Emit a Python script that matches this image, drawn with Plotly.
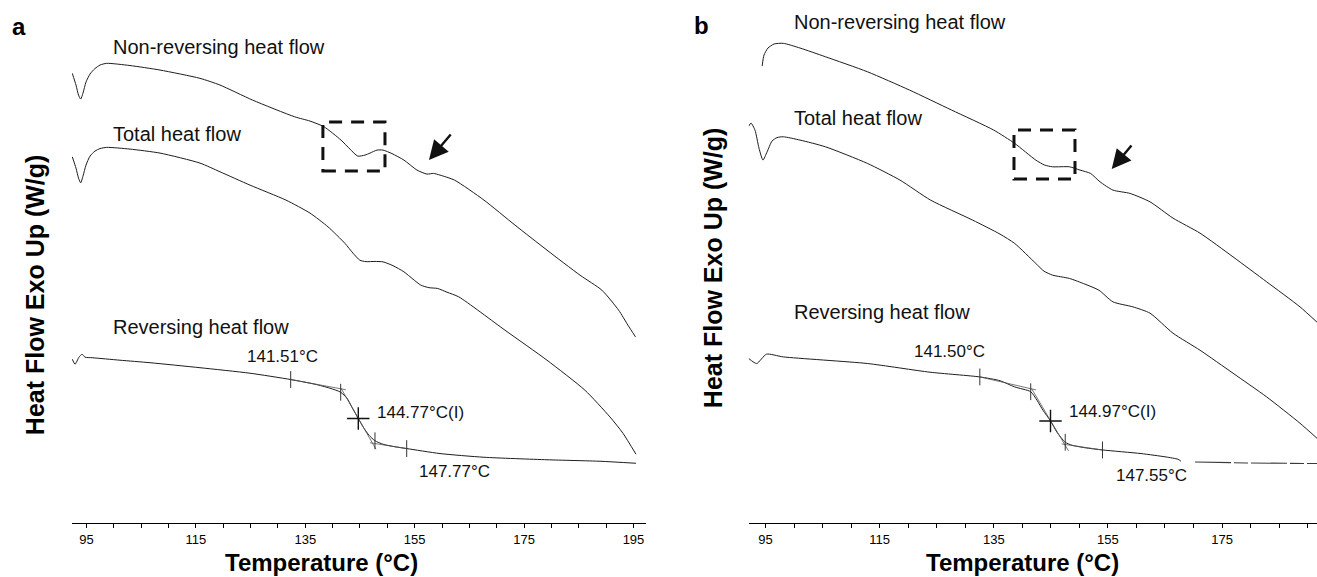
import plotly.graph_objects as go

# ---------------- Panel a data (Temperature °C, heat flow, offset W/g) ----------------
a_nonrev_T = [92.40, 93.08, 93.54, 93.94, 94.36, 94.91, 95.64, 96.55, 97.47, 98.69, 102.95, 108.44,
              115.75, 119.41, 125.35, 133.04, 135.86, 138.42, 141.53, 143.17, 144.58, 145.91, 146.83,
              148.11, 149.21, 150.85, 153.04, 155.42, 157.25, 158.44, 159.63, 162.28, 167.67, 173.34,
              179.19, 185.22, 189.22, 192.29, 193.99, 195.37]
a_nonrev_Q = [4.494, 4.377, 4.277, 4.237, 4.297, 4.407, 4.487, 4.542, 4.577, 4.594, 4.572, 4.527,
              4.444, 4.377, 4.227, 4.060, 4.017, 3.960, 3.827, 3.737, 3.667, 3.677, 3.697,
              3.727, 3.727, 3.692, 3.627, 3.527, 3.487, 3.494, 3.477, 3.427, 3.227, 2.977,
              2.727, 2.477, 2.327, 2.127, 1.977, 1.860]

a_total_T = [92.40, 93.08, 93.54, 93.94, 94.36, 94.91, 95.64, 96.55, 97.47, 98.69, 102.95, 108.44,
             115.75, 119.41, 124.89, 131.47, 135.86, 139.15, 142.26, 143.72, 144.96, 146.10, 147.74,
             149.21, 151.03, 153.04, 154.69, 156.13, 157.61, 159.20, 160.90, 163.06, 171.51, 179.19,
             186.13, 190.70, 193.08, 195.46]
a_total_Q = [3.660, 3.547, 3.447, 3.400, 3.467, 3.577, 3.667, 3.717, 3.742, 3.754, 3.737, 3.697,
             3.597, 3.510, 3.377, 3.227, 3.097, 2.960, 2.794, 2.697, 2.627, 2.612, 2.614,
             2.610, 2.572, 2.510, 2.437, 2.377, 2.352, 2.344, 2.307, 2.260, 1.927, 1.627,
             1.327, 1.060, 0.897, 0.687]

a_rev_T = [92.40, 92.90, 93.63, 94.18, 94.73, 96.01, 101.12, 106.61, 115.75, 124.89, 132.33, 136.77,
           139.52, 141.47, 142.62, 143.54, 144.69, 145.73, 146.65, 147.74, 149.21, 151.40, 153.54,
           159.63, 167.67, 179.19, 188.88, 195.46]
a_rev_Q = [1.637, 1.587, 1.657, 1.687, 1.657, 1.652, 1.627, 1.602, 1.552, 1.497, 1.434, 1.387,
           1.347, 1.307, 1.247, 1.157, 1.044, 0.947, 0.877, 0.822, 0.787, 0.762, 0.744,
           0.694, 0.657, 0.632, 0.617, 0.597]

a_tick_T = [132.33, 141.47, 147.74, 153.54]
a_tick_Q = [1.434, 1.307, 0.822, 0.744]
a_infl_T, a_infl_Q = 144.69, 1.044
a_tan_pre_T, a_tan_pre_Q = [132.33, 142.42], [1.434, 1.332]
a_tan_mid_T, a_tan_mid_Q = [141.53, 147.92], [1.347, 0.737]
a_tan_post_T, a_tan_post_Q = [146.83, 153.54], [0.802, 0.744]

# ---------------- Panel b data ----------------
b_nonrev_T = [94.40, 94.72, 95.42, 96.47, 98.10, 101.03, 105.48, 112.84, 120.22, 127.60, 134.98,
              138.66, 142.36, 143.92, 145.31, 148.27, 150.11, 151.95, 153.61, 155.89, 158.87,
              162.38, 166.41, 171.14, 176.93, 182.83, 188.67, 191.65]
b_nonrev_Q = [4.567, 4.677, 4.747, 4.787, 4.794, 4.747, 4.660, 4.510, 4.327, 4.127, 3.927,
              3.794, 3.627, 3.577, 3.560, 3.560, 3.527, 3.494, 3.410, 3.327, 3.294,
              3.210, 3.047, 2.897, 2.660, 2.410, 2.160, 2.007]

b_total_T = [92.04, 92.44, 93.14, 93.84, 94.54, 95.25, 96.12, 97.00, 98.10, 101.03, 105.48, 112.84,
             118.56, 123.92, 131.30, 136.09, 138.66, 142.36, 143.80, 145.31, 148.27, 150.99,
             153.42, 155.89, 159.40, 162.38, 166.41, 171.14, 176.93, 182.83, 188.67, 191.65]
b_total_Q = [3.967, 3.997, 3.927, 3.747, 3.627, 3.707, 3.817, 3.852, 3.860, 3.827, 3.760, 3.594,
             3.427, 3.227, 3.027, 2.887, 2.794, 2.594, 2.517, 2.477, 2.444, 2.387,
             2.327, 2.210, 2.160, 2.097, 1.897, 1.727, 1.497, 1.260, 0.997, 0.847]

b_rev_T = [92.04, 93.44, 95.14, 98.10, 112.84, 123.82, 132.55, 136.09, 138.66, 141.47, 142.57,
           143.62, 144.94, 146.08, 147.52, 148.71, 150.99, 154.05, 160.80, 165.18, 167.29, 167.81]
b_rev_Q = [1.644, 1.594, 1.687, 1.660, 1.594, 1.507, 1.460, 1.422, 1.360, 1.312, 1.227,
           1.127, 1.020, 0.907, 0.807, 0.777, 0.752, 0.730, 0.694, 0.660, 0.637, 0.617]
b_rev2_T = [170.27, 179.21, 191.65]
b_rev2_Q = [0.610, 0.600, 0.594]

b_tick_T = [132.55, 141.47, 147.52, 154.05]
b_tick_Q = [1.460, 1.312, 0.807, 0.730]
b_infl_T, b_infl_Q = 144.94, 1.020
b_tan_pre_T, b_tan_pre_Q = [132.55, 142.40], [1.460, 1.330]
b_tan_mid_T, b_tan_mid_Q = [141.60, 148.10], [1.345, 0.720]
b_tan_post_T, b_tan_post_Q = [146.90, 154.05], [0.790, 0.730]

# labels
curve_labels = ["Non-reversing heat flow", "Total heat flow", "Reversing heat flow"]
a_label_T = [99.57, 99.57, 99.57]
a_label_Q = [4.76, 3.887, 1.96]
b_label_T = [99.57, 99.57, 99.57]
b_label_Q = [5.01, 4.044, 2.11]

a_temp_texts = ["141.51°C", "144.77°C(I)", "147.77°C"]
a_temp_T = [130.85, 147.74, 155.42]
a_temp_Q = [1.66, 1.107, 0.517]
b_temp_texts = ["141.50°C", "144.97°C(I)", "147.55°C"]
b_temp_T = [127.23, 147.83, 156.0]
b_temp_Q = [1.71, 1.11, 0.477]

# dashed boxes and arrows (data coords)
a_box = (138.22, 149.57, 3.517, 4.007)
b_box = (138.54, 149.23, 3.437, 3.927)
a_arrow = (157.61, 3.627, 161.82, 3.897)   # tip x, tip y, tail x, tail y
b_arrow = (155.67, 3.537, 159.35, 3.787)

tick_vals = [95, 115, 135, 155, 175, 195]

FONT = "Liberation Sans, Arial, Helvetica, sans-serif"
LC = "#1e1e1e"

fig = go.Figure()

def add_panel(xa, ya, nonrev, total, rev, ticks, infl, tans, extra=None):
    for T, Q in (nonrev, total, rev):
        fig.add_trace(go.Scatter(x=T, y=Q, mode="lines",
                                 line=dict(color=LC, width=1, shape="spline", smoothing=0.6),
                                 xaxis=xa, yaxis=ya, hoverinfo="skip", showlegend=False))
    if extra is not None:
        fig.add_trace(go.Scatter(x=extra[0], y=extra[1], mode="lines",
                                 line=dict(color="#3a3a3a", width=1.1, dash="36px,3px,14px,3px"),
                                 xaxis=xa, yaxis=ya, hoverinfo="skip", showlegend=False))
    for T, Q in tans:
        fig.add_trace(go.Scatter(x=T, y=Q, mode="lines", line=dict(color="#555555", width=0.8),
                                 xaxis=xa, yaxis=ya, hoverinfo="skip", showlegend=False))
    fig.add_trace(go.Scatter(x=ticks[0], y=ticks[1], mode="markers",
                             marker=dict(symbol="line-ns", size=12, line=dict(color="#333333", width=1)),
                             xaxis=xa, yaxis=ya, hoverinfo="skip", showlegend=False))
    fig.add_trace(go.Scatter(x=[infl[0]], y=[infl[1]], mode="markers",
                             marker=dict(symbol="cross-thin", size=16, line=dict(color="#111111", width=1.4)),
                             xaxis=xa, yaxis=ya, hoverinfo="skip", showlegend=False))

add_panel("x", "y", (a_nonrev_T, a_nonrev_Q), (a_total_T, a_total_Q), (a_rev_T, a_rev_Q),
          (a_tick_T, a_tick_Q), (a_infl_T, a_infl_Q),
          [(a_tan_pre_T, a_tan_pre_Q), (a_tan_mid_T, a_tan_mid_Q), (a_tan_post_T, a_tan_post_Q)])
add_panel("x2", "y2", (b_nonrev_T, b_nonrev_Q), (b_total_T, b_total_Q), (b_rev_T, b_rev_Q),
          (b_tick_T, b_tick_Q), (b_infl_T, b_infl_Q),
          [(b_tan_pre_T, b_tan_pre_Q), (b_tan_mid_T, b_tan_mid_Q), (b_tan_post_T, b_tan_post_Q)],
          extra=(b_rev2_T, b_rev2_Q))

W, H = 1317, 577
AX_Y = 522.7  # pixel of x-axis line
annotations = []
shapes = []

def px(v):
    return v / W

def py(v):
    return (AX_Y - v) / AX_Y

for lab, T, Q in zip(curve_labels, a_label_T, a_label_Q):
    annotations.append(dict(x=T, y=Q, xref="x", yref="y", text=lab, showarrow=False,
                            xanchor="left", yanchor="middle", font=dict(size=20, color="#111")))
for lab, T, Q in zip(curve_labels, b_label_T, b_label_Q):
    annotations.append(dict(x=T, y=Q, xref="x2", yref="y2", text=lab, showarrow=False,
                            xanchor="left", yanchor="middle", font=dict(size=20, color="#111")))
for i, (lab, T, Q) in enumerate(zip(a_temp_texts, a_temp_T, a_temp_Q)):
    annotations.append(dict(x=T, y=Q, xref="x", yref="y", text=lab, showarrow=False,
                            xanchor="center" if i == 0 else "left", yanchor="middle",
                            font=dict(size=17, color="#111")))
for i, (lab, T, Q) in enumerate(zip(b_temp_texts, b_temp_T, b_temp_Q)):
    annotations.append(dict(x=T, y=Q, xref="x2", yref="y2", text=lab, showarrow=False,
                            xanchor="center" if i == 0 else "left", yanchor="middle",
                            font=dict(size=17, color="#111")))

for (tx, ty, sx, sy), xr, yr in ((a_arrow, "x", "y"), (b_arrow, "x2", "y2")):
    annotations.append(dict(x=tx, y=ty, ax=sx, ay=sy, xref=xr, yref=yr, axref=xr, ayref=yr,
                            text="", showarrow=True, arrowhead=2, arrowsize=1.6, arrowwidth=2.4,
                            arrowcolor="#111", standoff=0))

for (x0, x1, y0, y1), xr, yr in ((a_box, "x", "y"), (b_box, "x2", "y2")):
    shapes.append(dict(type="rect", x0=x0, x1=x1, y0=y0, y1=y1, xref=xr, yref=yr,
                       line=dict(color="#111", width=3, dash="13px,9px")))

# panel letters
annotations.append(dict(x=px(19), y=py(26), xref="paper", yref="paper", text="<b>a</b>",
                        showarrow=False, xanchor="center", yanchor="middle",
                        font=dict(size=24, color="#000")))
annotations.append(dict(x=px(701), y=py(25), xref="paper", yref="paper", text="<b>b</b>",
                        showarrow=False, xanchor="center", yanchor="middle",
                        font=dict(size=24, color="#000")))
# axis titles
for cx in (321, 1022):
    annotations.append(dict(x=px(cx), y=py(562), xref="paper", yref="paper",
                            text="<b>Temperature (°C)</b>", showarrow=False,
                            xanchor="center", yanchor="middle", font=dict(size=24, color="#000")))
for cx, cy in ((35, 295), (713, 268)):
    annotations.append(dict(x=px(cx), y=py(cy), xref="paper", yref="paper",
                            text="<b>Heat Flow Exo Up (W/g)</b>", showarrow=False, textangle=-90,
                            xanchor="center", yanchor="middle", font=dict(size=25, color="#000")))

xcommon = dict(showgrid=False, zeroline=False, showline=True, linecolor="#000", linewidth=1.3,
               ticks="outside", ticklen=4, tickwidth=1, tickcolor="#000",
               tickmode="array", tickvals=tick_vals, ticktext=[str(v) for v in tick_vals],
               tickfont=dict(size=13, color="#000"),
               minor=dict(dtick=5, tick0=95, ticks="outside", ticklen=4, tickwidth=1, tickcolor="#000"),
               fixedrange=True)
ycommon = dict(visible=False, range=[0, AX_Y / 100], fixedrange=True)

fig.update_layout(
    width=W, height=H, autosize=False,
    margin=dict(l=0, r=0, t=0, b=H - AX_Y, pad=0),
    paper_bgcolor="white", plot_bgcolor="white",
    font=dict(family=FONT, color="#000"),
    xaxis=dict(domain=[72 / W, 646 / W], range=[92.35, 197.29], anchor="y", **xcommon),
    xaxis2=dict(domain=[748.7 / W, 1.0], range=[92.04, 191.65], anchor="y2", **xcommon),
    yaxis=dict(domain=[0, 1], anchor="x", **ycommon),
    yaxis2=dict(domain=[0, 1], anchor="x2", **ycommon),
    annotations=annotations, shapes=shapes, showlegend=False,
)

fig.write_html("out.html", config={"displayModeBar": False})
